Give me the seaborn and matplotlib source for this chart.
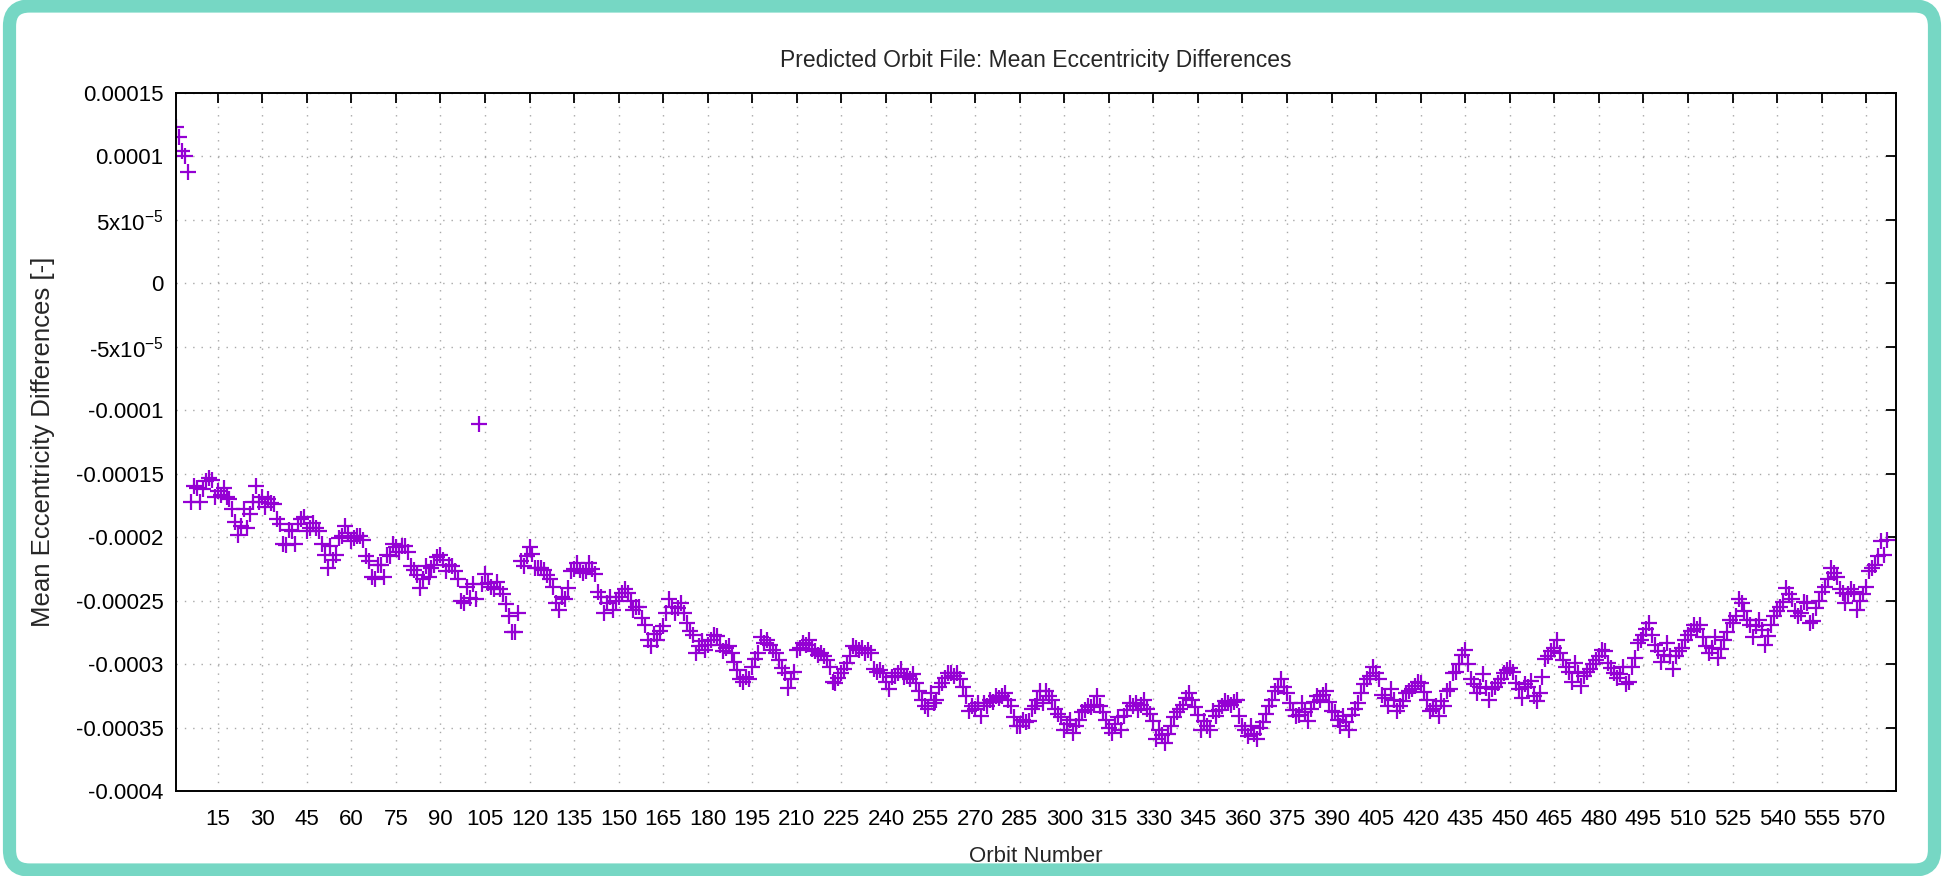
import numpy as np
import pandas as pd
import matplotlib
matplotlib.use("Agg")
import matplotlib.pyplot as plt
import seaborn as sns
from matplotlib.patches import FancyBboxPatch
from matplotlib.transforms import IdentityTransform

# Mean eccentricity differences per orbit, in units of 1e-6
ecc_start = [123, 115, 104, 100, 88]
ecc_decline = [
    -172, -160, -161, -172, -162, -156, -153, -155, -168, -164, -167, -161, -168, -170, -178,
    -188, -198, -191, -178, -193, -182, -172, -160, -172, -168, -176, -170, -173, -174, -186,
    -190, -205, -206, -194, -195, -205, -190, -186, -184, -195, -193, -189, -193, -195, -205,
    -214, -224, -207, -218, -214, -201, -199, -191, -197, -203, -201, -199, -199, -202, -215,
    -219, -231, -233, -222, -222, -231, -214, -215, -205, -208, -212, -207, -207, -212, -223,
    -226, -230, -240, -233, -223, -231, -224, -222, -216, -214, -218, -227, -222, -223, -227,
    -233, -250, -252, -239, -248, -237, -249, -111, -237, -229, -236, -239, -241, -235, -241,
    -245, -253, -262, -275, -275, -260, -219, -223, -215, -208, -213, -224, -224, -224, -226,
    -230, -233, -239, -252, -257, -247, -249, -240, -227, -225, -220, -226, -228, -227, -220,
    -225, -229, -243, -247, -260,
    -252, -247, -257, -250, -247, -244, -241, -244, -250, -257, -255, -255, -264, -269, -281,
    -286, -276, -281, -274, -270, -260, -249, -255, -260, -256, -252, -260, -268, -274, -277,
    -291, -286, -282, -289, -285, -281, -277, -278, -285, -290, -287, -286, -291, -298, -305,
    -312, -314, -310, -312, -302, -296, -291, -279, -283, -281, -285, -289, -291, -297, -303,
    -307, -319, -312, -306, -289, -287, -283, -285, -281, -288, -290, -293, -291, -294, -297,
    -302, -314, -315, -311, -307, -304, -299, -294, -286, -287, -289, -287, -291, -289, -291,
    -304, -306, -305, -307, -314, -320, -310, -309, -307, -304, -310, -309, -312, -308, -315,
    -321, -328, -333, -335, -323, -331, -328, -318, -315, -311, -307, -307, -309, -307, -312,
    -318, -325, -337, -333, -335, -331, -341, -331, -333, -328, -330, -325, -327, -325, -323,
    -328, -333, -342, -349, -349, -344, -346, -345, -335, -333, -328, -321, -331, -321, -325,
]
ecc_bottom = [
    -328, -335, -339, -342, -352, -347, -344, -354, -349, -344, -338, -336, -333, -334, -332,
    -325, -333, -338, -344, -350, -354, -347, -342, -352, -341, -336, -331, -333, -331, -336,
    -332, -328, -335, -339, -345, -359, -352, -356, -362, -355, -349, -342, -338, -335, -332,
    -327, -323, -328, -334, -340, -352, -345, -349, -352, -337, -341, -336, -333, -329, -331,
    -332, -330, -328, -341, -349, -352, -357, -349, -355, -359, -350, -346, -339, -333, -328,
    -321, -318, -312, -318, -323, -331, -336, -341, -340, -331, -338, -345, -335, -330, -325,
    -328, -324, -321, -330, -337, -338, -344, -349, -341, -346, -352, -340, -335, -331, -323,
    -316, -312, -309, -302, -307, -312, -324, -327, -333, -320, -328, -337, -333, -329, -323,
    -321, -320, -317, -314, -315, -322, -328, -337, -335, -333, -341, -329, -333,
]
ecc_rise = [
    -321, -320, -307, -306, -300, -293, -289, -300, -312, -316, -323, -318, -308, -319, -328,
    -320, -318, -315, -312, -307, -305, -303, -306, -315, -320, -327, -316, -318, -313, -325,
    -329, -323, -310, -296, -294, -290, -287, -281, -291, -297, -302, -306, -314, -299, -307,
    -317, -309, -306, -304, -300, -297, -294, -289, -290, -299, -303, -307, -311, -308, -302,
    -316, -314, -302, -295, -283, -281, -277, -272, -268, -277, -285, -290, -298, -293, -283,
    -294, -304, -294, -290, -287, -281, -277, -274, -269, -272, -269, -279, -286, -291, -287,
    -279, -295, -288, -281, -275, -265, -268, -262, -249, -252, -258, -265, -269, -279, -270,
    -265, -273, -285, -278, -269, -262, -258, -255, -251, -240, -245, -249, -258, -262, -260,
    -251, -252, -268, -266, -256, -250, -243, -239, -233, -224, -228, -231, -241, -244, -252,
    -245, -241, -243, -257, -250, -245, -239, -227, -224, -222, -215, -203, -214, -202,
]

x_ticks = list(range(15, 571, 15))
y_ticks = [0.00015, 0.0001, 5e-5, 0, -5e-5, -0.0001, -0.00015, -0.0002,
           -0.00025, -0.0003, -0.00035, -0.0004]
y_tick_labels = ["0.00015", "0.0001", "5x10$^{-5}$", "0", "-5x10$^{-5}$", "-0.0001",
                 "-0.00015", "-0.0002", "-0.00025", "-0.0003", "-0.00035", "-0.0004"]

values = ecc_start + ecc_decline + ecc_bottom + ecc_rise
df = pd.DataFrame({
    "orbit": np.arange(1, len(values) + 1),
    "ecc": np.array(values) * 1e-6,
})

sns.set_style("white")
plt.rcParams["font.family"] = ["Liberation Sans", "DejaVu Sans"]
plt.rcParams["mathtext.fontset"] = "custom"
plt.rcParams["mathtext.rm"] = "Liberation Sans"
plt.rcParams["mathtext.it"] = "Liberation Sans:italic"

W, H = 1947, 876
fig = plt.figure(figsize=(W / 100, H / 100), dpi=100)
fig.patch.set_facecolor("white")
ax = fig.add_axes([176 / W, (H - 791) / H, (1896 - 176) / W, (791 - 93) / H])

sns.scatterplot(data=df, x="orbit", y="ecc", marker="+", color="#9400d3",
                s=130, linewidth=1.6, ax=ax, legend=False)

ax.set_xlim(1, 580)
ax.set_ylim(-0.0004, 0.00015)
ax.set_xticks(x_ticks)
ax.set_xticklabels([str(t) for t in x_ticks])
ax.set_yticks(y_ticks)
ax.set_yticklabels(y_tick_labels)

ax.grid(True, color="#a8a8a8", linestyle=(0, (1, 5)), linewidth=1.0)
for s in ax.spines.values():
    s.set_color("black")
    s.set_linewidth(1.4)
ax.tick_params(direction="in", length=7, width=1.3, top=True, right=True,
               labelsize=16, colors="black")
ax.tick_params(axis="x", pad=13)
ax.tick_params(axis="y", pad=9)

ax.set_title("Predicted Orbit File: Mean Eccentricity Differences", fontsize=16.5, pad=19)
ax.set_xlabel("Orbit Number", fontsize=16)
ax.set_ylabel("Mean Eccentricity Differences [-]", fontsize=18.5)
ax.xaxis.set_label_coords(0.5, -(856 - 791) / 698)
ax.xaxis.label.set_verticalalignment("center")
ax.yaxis.set_label_coords((43 - 176) / 1720, 0.5)
ax.yaxis.label.set_verticalalignment("center")

# teal rounded frame around the whole picture
frame = FancyBboxPatch((9.5, 6), 1925, 864, boxstyle="round,pad=0,rounding_size=20",
                       transform=IdentityTransform(), fill=False,
                       edgecolor="#76d7c4", linewidth=9.5)
fig.add_artist(frame)

plt.savefig("out.png", dpi=100)
